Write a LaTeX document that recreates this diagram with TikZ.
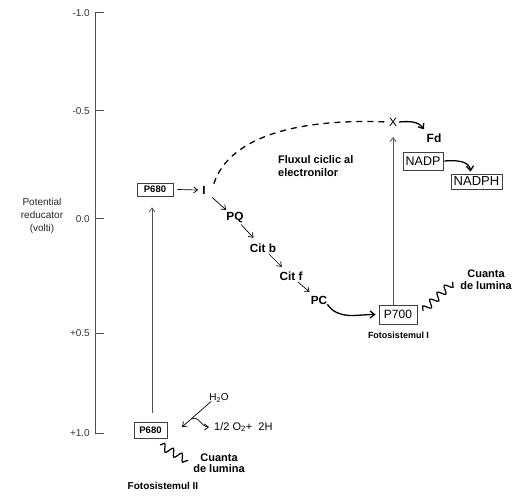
\documentclass[tikz,border=0pt]{standalone}
\usepackage{fontspec}
\setmainfont{Liberation Sans}
\usetikzlibrary{arrows.meta,decorations.pathmorphing}
\definecolor{axisgray}{HTML}{505050}
\definecolor{boxgray}{HTML}{404040}
\begin{document}
\begin{tikzpicture}[x=1pt,y=-1pt,
  arr/.style={-{Straight Barb[length=4pt,width=6pt]},line width=0.7pt},
  thickarr/.style={-{Straight Barb[length=4.5pt,width=7pt]},line width=1.3pt},
  lbl/.style={font=\fontsize{12}{14}\selectfont,inner sep=1pt},
  clbl/.style={font=\fontsize{11.8}{14}\selectfont\bfseries,inner sep=1pt},
  blbl/.style={font=\fontsize{11}{11.5}\selectfont\bfseries,inner sep=0pt,align=center},
  ticklbl/.style={font=\fontsize{10}{12}\selectfont,anchor=east,inner sep=0pt,text=black!80},
  pbox/.style={draw=boxgray,line width=0.9pt,inner sep=0pt,font=\fontsize{9.5}{11}\selectfont\bfseries},
  nbox/.style={draw=boxgray,line width=0.8pt,inner sep=0pt},
  wave/.style={decorate,decoration={snake,amplitude=3.8pt,segment length=10pt},line width=1.2pt}]
\useasboundingbox (0,0) rectangle (528,500);
% axis
\coordinate (ax1) at (95,13);
\coordinate (ax2) at (95,111);
\coordinate (ax3) at (95,219);
\coordinate (ax4) at (95,333);
\coordinate (ax5) at (95,433);
\draw[axisgray,line width=1pt] (ax1) -- (ax5);
\foreach \c/\t in {ax1/-1.0,ax2/-0.5,ax3/0.0,ax4/+0.5,ax5/+1.0}{
  \draw[axisgray,line width=1pt] (\c) -- ++(9,0);
  \node[ticklbl] at ([xshift=-5pt]\c) {\t};
}
\node[font=\fontsize{10}{13}\selectfont,align=center,text=black!85] (potlbl) at (42,216) {Potential\\reducator\\(volti)};
% nodes
\node[pbox,minimum width=36pt,minimum height=13pt] (p680top) at (155,189.5) {P680};
\node[pbox,minimum width=33pt,minimum height=16pt] (p680bot) at (150.5,430) {P680};
\node[clbl] (I) at (204,190) {I};
\node[clbl] (PQ) at (235,218) {PQ};
\node[clbl] (citb) at (263,248) {Cit b};
\node[clbl] (citf) at (291,276) {Cit f};
\node[clbl] (PC) at (319,300) {PC};
\node[lbl] (X) at (393,122) {X};
\node[font=\fontsize{12}{14}\selectfont\bfseries,inner sep=1pt] (Fd) at (434,138) {Fd};
\node[nbox,minimum width=40pt,minimum height=18pt,font=\fontsize{12.5}{14}\selectfont] (nadp) at (423,161) {NADP};
\node[nbox,minimum width=51pt,minimum height=15pt,font=\fontsize{13}{14}\selectfont] (nadph) at (476.5,181.5) {NADPH};
\node[nbox,minimum width=38pt,minimum height=19pt,font=\fontsize{12}{14}\selectfont] (p700) at (398,314.5) {P700};
\node[font=\fontsize{9}{11}\selectfont\bfseries] (ps1) at (398.5,335) {Fotosistemul I};
\node[font=\fontsize{10}{12}\selectfont\bfseries] (ps2) at (163,486) {Fotosistemul II};
\node[blbl] (cuanta1) at (486,279.5) {Cuanta\\de lumina};
\node[blbl] (cuanta2) at (219,463) {Cuanta\\de lumina};
\node[font=\fontsize{11}{13}\selectfont,anchor=north west,align=left,inner sep=0pt] (flux) at (278,155) {\bfseries Fluxul ciclic al\\\bfseries electronilor};
\node[font=\fontsize{10}{12}\selectfont,inner sep=1pt] (h2o) at (219,398) {H\textsubscript{2}O};
\node[font=\fontsize{11}{13}\selectfont,anchor=west,inner sep=0pt] (o2) at (214,427) {1/2 O\textsubscript{2}+\ \ 2H};
% connectors
\draw[arr] ([xshift=4pt]p680top.east) -- ([xshift=-3pt]I.west);
\coordinate (vbot) at ([xshift=1.5pt,yshift=9pt]p680bot.north);
\draw[arr,axisgray,shorten >=11pt] (vbot) -- (vbot |- p680top.south);
\draw[arr,shorten <=11pt,shorten >=12pt] (I.center) -- (PQ.center);
\draw[arr,shorten <=9pt,shorten >=14pt] (PQ.center) -- (citb.center);
\draw[arr,shorten <=8pt,shorten >=13pt] (citb.center) -- (citf.center);
\draw[arr,shorten <=9pt,shorten >=12.5pt] (citf.center) -- (PC.center);
\draw[thickarr] ([xshift=-1pt,yshift=1pt]PC.south east) to[out=-55,in=180] ([xshift=-3pt]p700.west);
\draw[arr,axisgray,line width=0.8pt,shorten >=15pt] (X |- p700.north) -- (X.center);
\draw[line width=1.3pt,dash pattern=on 6pt off 5pt] ([xshift=7pt,yshift=1pt]I.north east) .. controls (228,140) and (290,118) .. ([xshift=-1pt]X.west);
\draw[thickarr] ([xshift=1pt]X.east) to[out=5,in=125] ([xshift=-10pt,yshift=3pt]Fd.north);
\draw[thickarr] ([xshift=1pt]nadp.east) to[out=5,in=95] ([xshift=-6pt,yshift=2pt]nadph.north);
\coordinate (h2oend) at (182,427);
\draw[arr] ([xshift=3pt,yshift=2pt]h2o.south west) -- (h2oend);
\coordinate (hookstart) at (192,419);
\draw[arr] (hookstart) to[out=30,in=180] ([xshift=-5pt]o2.west);
\coordinate (w1a) at (160,445);
\coordinate (w1b) at (188,461);
\draw[wave] (w1a) -- (w1b);
\coordinate (w2a) at (423,311);
\coordinate (w2b) at (453,282);
\draw[wave] (w2a) -- (w2b);
\end{tikzpicture}
\end{document}
